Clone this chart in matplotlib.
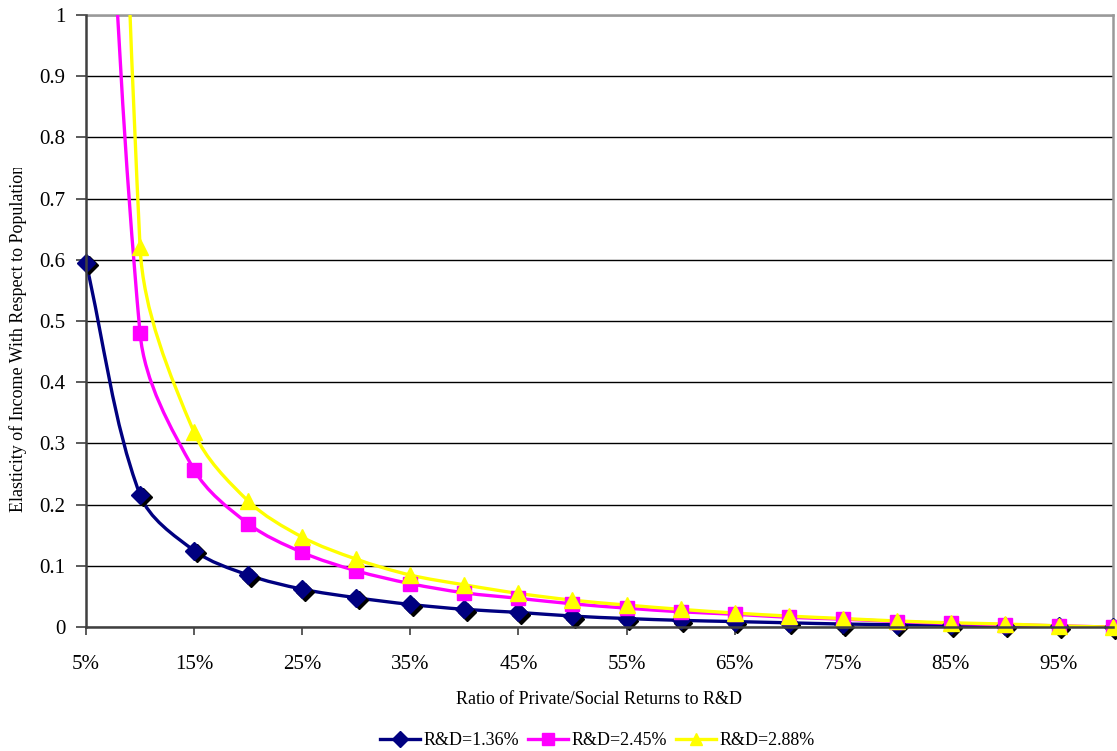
import numpy as np
import matplotlib
matplotlib.use("Agg")
import matplotlib.pyplot as plt
import matplotlib.transforms as mtransforms
from matplotlib.path import Path
from matplotlib.patches import PathPatch
from matplotlib.lines import Line2D

plt.rcParams['font.family'] = ['Liberation Serif', 'DejaVu Serif']

# ratio of private to social returns, 5% .. 100%
ratio = [5, 10, 15, 20, 25, 30, 35, 40, 45, 50, 55, 60, 65, 70, 75, 80, 85, 90, 95, 100]
tick_labels = ['5%', '15%', '25%', '35%', '45%', '55%', '65%', '75%', '85%', '95%']

rd_136 = [0.595, 0.216, 0.125, 0.085, 0.062, 0.048, 0.037, 0.029, 0.024, 0.018,
          0.014, 0.011, 0.009, 0.007, 0.005, 0.004, 0.003, 0.002, 0.001, 0.0]
rd_245 = [2.2, 0.480, 0.257, 0.169, 0.122, 0.092, 0.071, 0.056, 0.047, 0.038,
          0.031, 0.025, 0.021, 0.016, 0.013, 0.009, 0.006, 0.004, 0.002, 0.0]
rd_288 = [4.0, 0.621, 0.318, 0.206, 0.147, 0.111, 0.085, 0.069, 0.055, 0.044,
          0.036, 0.029, 0.023, 0.018, 0.014, 0.010, 0.007, 0.005, 0.002, 0.0]

series = [
    ('R&D=1.36%', rd_136, '#000080', 'D', 9),
    ('R&D=2.45%', rd_245, '#FF00FF', 's', 10),
    ('R&D=2.88%', rd_288, '#FFFF00', '^', 11),
]


def smooth_path(ax, x, y):
    # bezier smoothing done in screen space, control arms scaled by segment length
    pts = ax.transData.transform(np.column_stack([x, y]).astype(float))
    n = len(pts)
    seg = np.hypot(*np.diff(pts, axis=0).T)
    verts = [pts[0]]
    codes = [Path.MOVETO]
    for i in range(n - 1):
        p0 = pts[max(i - 1, 0)]
        p1 = pts[i]
        p2 = pts[i + 1]
        p3 = pts[min(i + 2, n - 1)]
        d_prev = seg[i - 1] if i > 0 else 0.0
        d_next = seg[i + 1] if i < n - 2 else 0.0
        c1 = p1 + (p2 - p0) / 3.0 * seg[i] / (d_prev + seg[i])
        c2 = p2 - (p3 - p1) / 3.0 * seg[i] / (seg[i] + d_next)
        verts += [c1, c2, p2]
        codes += [Path.CURVE4] * 3
    verts = ax.transData.inverted().transform(np.array(verts))
    return Path(verts, codes)


fig = plt.figure(figsize=(11.17, 7.51), dpi=100)
ax = fig.add_axes([0.077, 0.165, 0.9194, 0.815])

xpos = np.arange(len(ratio))
ax.set_xlim(0, len(ratio) - 1)
ax.set_ylim(0, 1)

for label, vals, color, marker, ms in series:
    vals = np.array(vals)
    ax.add_patch(PathPatch(smooth_path(ax, xpos, vals), facecolor='none',
                           edgecolor=color, lw=2.4, zorder=3))
    shown = np.where(vals <= 1.0, vals, np.nan)
    if marker == 'D':
        shadow = mtransforms.offset_copy(ax.transData, fig=fig, x=2.5, y=-2.5, units='dots')
        ax.plot(xpos, shown, ls='none', marker=marker, ms=ms, color='black',
                mec='black', transform=shadow, clip_on=False, zorder=4)
    ax.plot(xpos, shown, ls='none', marker=marker, ms=ms, color=color,
            mec=color, clip_on=False, zorder=5)

ax.set_yticks(np.arange(0, 1.01, 0.1))
ax.set_yticklabels(['0', '0.1', '0.2', '0.3', '0.4', '0.5', '0.6', '0.7', '0.8', '0.9', '1'])
ax.set_xticks(xpos[::2])
ax.set_xticklabels(tick_labels)
ax.grid(axis='y', color='black', lw=1.0)
ax.set_axisbelow(True)

ax.tick_params(axis='x', direction='out', length=6, width=1.2, color='#404040',
               labelsize=15, pad=14)
ax.tick_params(axis='y', direction='out', length=7, width=1.2, color='#404040',
               labelsize=15, pad=8)
for side in ['left', 'bottom']:
    ax.spines[side].set_color('#404040')
    ax.spines[side].set_linewidth(1.8)
    ax.spines[side].set_zorder(6)
for side in ['top', 'right']:
    ax.spines[side].set_color('#999999')
    ax.spines[side].set_linewidth(1.8)

ax.set_xlabel('Ratio of Private/Social Returns to R&D', fontsize=13, labelpad=12)

ylab = fig.text(0.016, 0.55, 'Elasticity of Income With Respect to Population',
                rotation=90, ha='center', va='center', fontsize=13)
ylab.set_clip_box(mtransforms.TransformedBbox(
    mtransforms.Bbox([[0, 0], [0.05, 1 - 168 / 751]]), fig.transFigure))

handles = [Line2D([], [], color=c, lw=2.4, marker=m, ms=ms * 0.85, mec=c)
           for _, _, c, m, ms in series]
fig.legend(handles, [s[0] for s in series], loc='center', bbox_to_anchor=(0.535, 0.0135),
           ncol=3, frameon=False, fontsize=13, handlelength=2.2, handletextpad=0.2,
           columnspacing=0.5, borderpad=0)

fig.savefig('out.png', dpi=100)
